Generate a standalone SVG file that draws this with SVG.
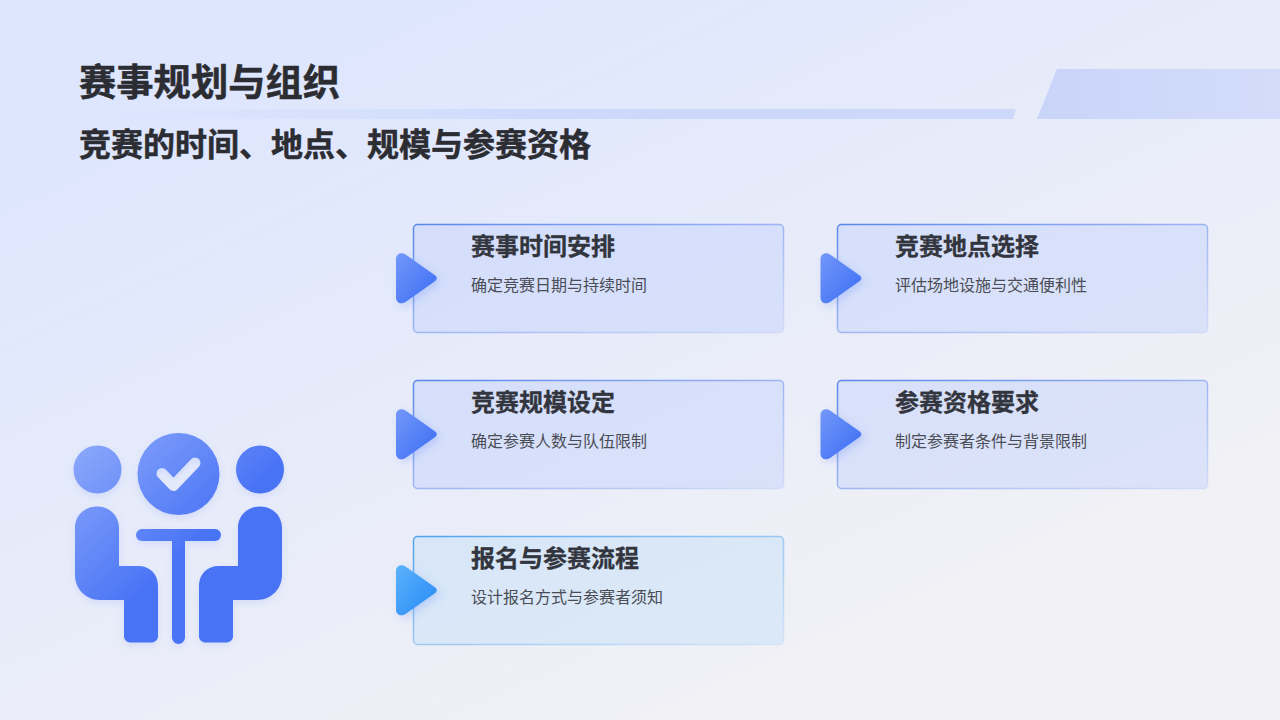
<svg xmlns="http://www.w3.org/2000/svg" width="1280" height="720" viewBox="0 0 1280 720">
<defs>
<linearGradient id="bg" gradientUnits="userSpaceOnUse" x1="460" y1="-30" x2="800" y2="720"><stop offset="0" stop-color="#dee6fe"/><stop offset="1" stop-color="#f2f2f5"/></linearGradient>
<linearGradient id="band1" x1="0" y1="0" x2="1" y2="0"><stop offset="0" stop-color="#d0dcfc" stop-opacity="0"/><stop offset="0.3" stop-color="#cfdcfc" stop-opacity="0.6"/><stop offset="0.5" stop-color="#ccd9fb"/><stop offset="1" stop-color="#cdd8fa"/></linearGradient>
<linearGradient id="band2" x1="0" y1="0" x2="1" y2="0"><stop offset="0" stop-color="#c9d4f9"/><stop offset="1" stop-color="#d3dcfa"/></linearGradient>
<linearGradient id="edgeA" x1="0" y1="0" x2="1" y2="1"><stop offset="0" stop-color="#5b86ee"/><stop offset="0.5" stop-color="#9db5f2"/><stop offset="1" stop-color="#d2dcf8"/></linearGradient>
<linearGradient id="edgeB" x1="0" y1="0" x2="1" y2="1"><stop offset="0" stop-color="#4fa3f0"/><stop offset="0.5" stop-color="#9bc8f3"/><stop offset="1" stop-color="#d4e4f7"/></linearGradient>
<linearGradient id="triA" x1="0" y1="0" x2="1" y2="1"><stop offset="0" stop-color="#7398f8"/><stop offset="1" stop-color="#3a6cf5"/></linearGradient>
<linearGradient id="triB" x1="0" y1="0" x2="1" y2="1"><stop offset="0" stop-color="#5cb2fb"/><stop offset="1" stop-color="#2689f6"/></linearGradient>
<linearGradient id="ico" gradientUnits="userSpaceOnUse" x1="72" y1="448" x2="178" y2="562"><stop offset="0" stop-color="#8ca8fb"/><stop offset="1" stop-color="#4873f5"/></linearGradient>
<filter id="sh" x="-40%" y="-40%" width="180%" height="180%"><feDropShadow dx="3" dy="3" stdDeviation="4" flood-color="#3f6ff5" flood-opacity="0.22"/></filter>
<filter id="ish" x="-20%" y="-20%" width="140%" height="140%"><feDropShadow dx="0" dy="3" stdDeviation="3.500" flood-color="#4873f5" flood-opacity="0.15"/></filter>
<mask id="check" maskUnits="userSpaceOnUse" x="130" y="425" width="100" height="100"><rect x="130" y="425" width="100" height="100" fill="#fff"/><path d="M162 473.500L173.500 485.500L195 463" fill="none" stroke="#000" stroke-width="11" stroke-linecap="round" stroke-linejoin="round"/></mask>
<path id="tri" d="M396 259C396 254 401 251.500 405.500 254.500L434.500 275C437.500 277 437.500 279.500 434.500 281.500L405.500 302C401 305 396 302.500 396 297.500Z"/>
</defs>
<style>
text{font-family:"Noto Sans CJK SC","Noto Sans",sans-serif}
.h{font-size:24px;font-weight:700;fill:#32353d;stroke:#32353d;stroke-width:0.300}
.d{font-size:16px;fill:#4a4d55}
.t{font-size:37.300px;font-weight:700;fill:#2b2d33;stroke:#2b2d33;stroke-width:0.500}
.s{font-size:32px;font-weight:700;fill:#2b2d33;stroke:#2b2d33;stroke-width:0.500}
.a{fill:#c6d3fb;fill-opacity:0.5;stroke:url(#edgeA);stroke-width:1.500}
.b{fill:#c6e0f8;fill-opacity:0.5;stroke:url(#edgeB);stroke-width:1.500}
</style>
<rect width="1280" height="720" fill="url(#bg)"/>
<g id="header">
<polygon points="80,109 1016,109 1013,119 80,119" fill="url(#band1)"/>
<polygon points="1057,69 1280,69 1280,119 1037,119" fill="url(#band2)"/>
<text class="t" x="79" y="96">赛事规划与组织</text>
<text class="s" x="79" y="156">竞赛的时间、地点、规模与参赛资格</text>
</g>
<g id="illustration" fill="url(#ico)" filter="url(#ish)">
<circle cx="97.500" cy="469.500" r="24"/>
<circle cx="260" cy="469.500" r="24"/>
<circle cx="178.500" cy="474" r="41" mask="url(#check)"/>
<rect x="136" y="529" width="85" height="12" rx="6"/>
<rect x="172" y="535" width="13" height="109" rx="6.500"/>
<path d="M75 528C75 515 85 506.500 97 506.500C109 506.500 119 515 119 528V566H138C150 566 158 574 158 586V636C158 640 155 642.500 151 642.500H131C127 642.500 124 640 124 636V600H100C86 600 75 589 75 575Z"/>
<path d="M282 528C282 515 272 506.500 260 506.500C248 506.500 238 515 238 528V566H219C207 566 199 574 199 586V636C199 640 202 642.500 206 642.500H226C230 642.500 233 640 233 636V600H257C271 600 282 589 282 575Z"/>
</g>
<g id="card1"><rect class="a" x="413.500" y="224.500" width="370" height="108" rx="4"/><use href="#tri" fill="url(#triA)" filter="url(#sh)"/><text class="h" x="471" y="255">赛事时间安排</text><text class="d" x="471" y="291">确定竞赛日期与持续时间</text></g>
<g id="card2"><rect class="a" x="837.500" y="224.500" width="370" height="108" rx="4"/><use href="#tri" x="424.500" fill="url(#triA)" filter="url(#sh)"/><text class="h" x="895" y="255">竞赛地点选择</text><text class="d" x="895" y="291">评估场地设施与交通便利性</text></g>
<g id="card3"><rect class="a" x="413.500" y="380.500" width="370" height="108" rx="4"/><use href="#tri" y="156" fill="url(#triA)" filter="url(#sh)"/><text class="h" x="471" y="411">竞赛规模设定</text><text class="d" x="471" y="447">确定参赛人数与队伍限制</text></g>
<g id="card4"><rect class="a" x="837.500" y="380.500" width="370" height="108" rx="4"/><use href="#tri" x="424.500" y="156" fill="url(#triA)" filter="url(#sh)"/><text class="h" x="895" y="411">参赛资格要求</text><text class="d" x="895" y="447">制定参赛者条件与背景限制</text></g>
<g id="card5"><rect class="b" x="413.500" y="536.500" width="370" height="108" rx="4"/><use href="#tri" y="312" fill="url(#triB)" filter="url(#sh)"/><text class="h" x="471" y="567">报名与参赛流程</text><text class="d" x="471" y="603">设计报名方式与参赛者须知</text></g>
<g id="connectors"></g>
</svg>
